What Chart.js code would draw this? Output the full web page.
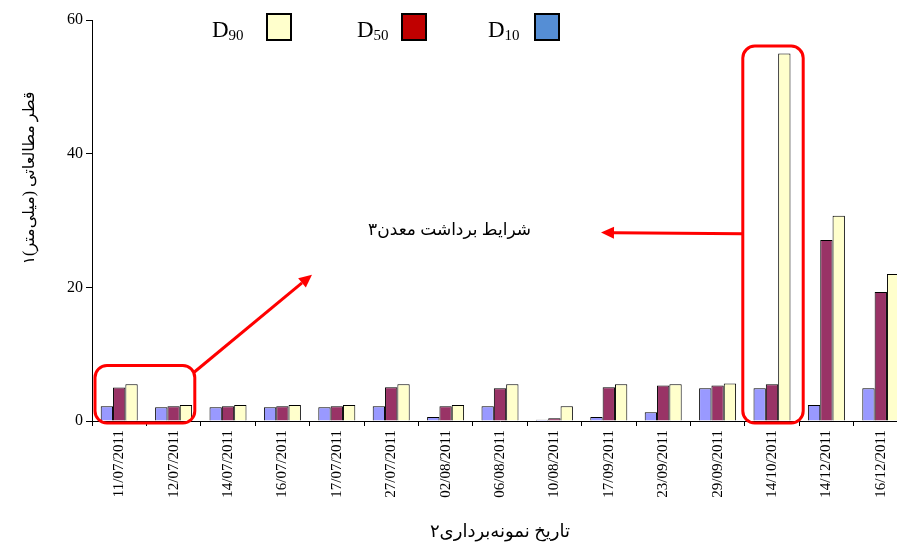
<!DOCTYPE html>
<html>
<head>
<meta charset="utf-8">
<script src="https://cdn.jsdelivr.net/npm/chart.js@4/dist/chart.umd.min.js"></script>
<style>
  html, body { margin: 0; padding: 0; background: #fff; overflow: hidden; }
  #wrap { width: 912px; height: 545px; }
</style>
</head>
<body>
<div id="wrap"><canvas id="chart"></canvas></div>
<script>
// sampling dates
var dates = ["11/07/2011", "12/07/2011", "14/07/2011", "16/07/2011", "17/07/2011",
  "27/07/2011", "02/08/2011", "06/08/2011", "10/08/2011", "17/09/2011",
  "23/09/2011", "29/09/2011", "14/10/2011", "14/12/2011", "16/12/2011"];

// grain sizes (mm)
var d10 = [2.2, 2.05, 2.05, 2.05, 2.05, 2.2, 0.6, 2.2, 0.2, 0.6, 1.3, 4.9, 4.9, 2.4, 4.9];
var d50 = [5.0, 2.2, 2.2, 2.2, 2.2, 5.05, 2.2, 4.9, 0.4, 5.05, 5.3, 5.3, 5.5, 27.1, 19.3];
var d90 = [5.5, 2.4, 2.4, 2.4, 2.4, 5.5, 2.4, 5.5, 2.2, 5.5, 5.5, 5.6, 55, 30.7, 22.0];

var yTicks = [0, 20, 40, 60];

var serif = '"Liberation Serif", "DejaVu Sans", serif';
var yTitle = "قطر مطالعاتی (میلی\u200cمتر)۱";
var xTitle = "تاریخ نمونه\u200cبرداری۲";
var noteText = "شرایط برداشت معدن۳";

// legend drawn by hand: label, subscript, box colour
var legendItems = [
  { sub: "90", color: "#FFFFCC", x: 212, box: 267 },
  { sub: "50", color: "#C00000", x: 357, box: 402 },
  { sub: "10", color: "#558ED5", x: 488, box: 535 }
];

var extras = {
  id: "extras",
  afterDraw: function (chart) {
    var ctx = chart.ctx;
    var xs = chart.scales.x, ys = chart.scales.y;
    var catW = (xs.right - xs.left) / dates.length;
    var tick = function (i) { return xs.left + catW * i; };

    ctx.save();
    // legend
    ctx.fillStyle = "#000";
    ctx.textBaseline = "alphabetic";
    legendItems.forEach(function (it) {
      ctx.font = "23px " + serif;
      ctx.fillStyle = "#000";
      ctx.fillText("D", it.x, 37);
      var w = ctx.measureText("D").width;
      ctx.font = "15px " + serif;
      ctx.fillText(it.sub, it.x + w, 40);
      ctx.fillStyle = it.color;
      ctx.fillRect(it.box, 14, 24, 26);
      ctx.lineWidth = 2;
      ctx.strokeStyle = "#000";
      ctx.strokeRect(it.box, 14, 24, 26);
    });

    // y axis title
    ctx.save();
    ctx.translate(30, 178);
    ctx.rotate(-Math.PI / 2);
    ctx.direction = "rtl";
    ctx.textAlign = "center";
    ctx.textBaseline = "middle";
    ctx.fillStyle = "#000";
    ctx.font = "16px " + serif;
    ctx.fillText(yTitle, 0, 0);
    ctx.restore();

    // red annotations
    ctx.strokeStyle = "#FF0000";
    ctx.fillStyle = "#FF0000";
    ctx.lineWidth = 3;
    var b1 = { l: xs.left + 3, r: tick(2) - 6, t: ys.getPixelForValue(8.3), b: ys.getPixelForValue(0) + 2 };
    var b2 = { l: tick(12) - 2, r: tick(13) + 4, t: ys.getPixelForValue(56.1), b: ys.getPixelForValue(0) + 2 };
    [b1, b2].forEach(function (b) {
      ctx.beginPath();
      ctx.roundRect(b.l, b.t, b.r - b.l, b.b - b.t, 12);
      ctx.stroke();
    });

    function arrow(x1, y1, x2, y2) {
      var a = Math.atan2(y2 - y1, x2 - x1);
      var hl = 13, hw = 6;
      var bx = x2 - hl * Math.cos(a), by = y2 - hl * Math.sin(a);
      ctx.beginPath();
      ctx.moveTo(x1, y1);
      ctx.lineTo(bx, by);
      ctx.stroke();
      ctx.beginPath();
      ctx.moveTo(x2, y2);
      ctx.lineTo(bx + hw * Math.sin(a), by - hw * Math.cos(a));
      ctx.lineTo(bx - hw * Math.sin(a), by + hw * Math.cos(a));
      ctx.closePath();
      ctx.fill();
    }
    arrow(b1.r - 1, b1.t + 7, 312, ys.getPixelForValue(21.9));
    arrow(b2.l, ys.getPixelForValue(28), 601, ys.getPixelForValue(28.2));

    ctx.direction = "rtl";
    ctx.textAlign = "right";
    ctx.textBaseline = "middle";
    ctx.fillStyle = "#000";
    ctx.font = "17px " + serif;
    ctx.fillText(noteText, 531, ys.getPixelForValue(28.5));
    ctx.restore();
  }
};

new Chart(document.getElementById("chart"), {
  type: "bar",
  data: {
    labels: dates,
    datasets: [
      { label: "D10", data: d10, backgroundColor: "#9999FF" },
      { label: "D50", data: d50, backgroundColor: "#993366" },
      { label: "D90", data: d90, backgroundColor: "#FFFFCC" }
    ]
  },
  options: {
    responsive: true,
    maintainAspectRatio: false,
    animation: false,
    devicePixelRatio: 1,
    layout: { padding: { top: 20, right: 4, bottom: 2, left: 0 } },
    datasets: {
      bar: {
        borderColor: "#000",
        borderWidth: 1,
        barPercentage: 1,
        categoryPercentage: 0.68
      }
    },
    plugins: {
      legend: { display: false },
      tooltip: { enabled: false }
    },
    scales: {
      x: {
        afterFit: function (s) { s.height = 122; },
        grid: { display: true, drawOnChartArea: false, color: "#000", tickLength: 5, offset: true },
        border: { color: "#000", width: 1 },
        ticks: {
          color: "#000",
          font: { family: serif, size: 15 },
          minRotation: 90,
          maxRotation: 90,
          autoSkip: false,
          padding: 4
        },
        title: {
          display: true,
          text: xTitle,
          color: "#000",
          font: { family: serif, size: 18 },
          padding: { top: 0, bottom: 0 }
        }
      },
      y: {
        min: 0,
        max: 60,
        afterFit: function (s) { s.width = 92; },
        afterBuildTicks: function (s) { s.ticks = yTicks.map(function (v) { return { value: v }; }); },
        grid: { display: true, drawOnChartArea: false, color: "#000", tickLength: 6 },
        border: { color: "#000", width: 1 },
        ticks: {
          color: "#000",
          font: { family: serif, size: 16 },
          padding: 3
        }
      }
    }
  },
  plugins: [extras]
});
</script>
</body>
</html>
